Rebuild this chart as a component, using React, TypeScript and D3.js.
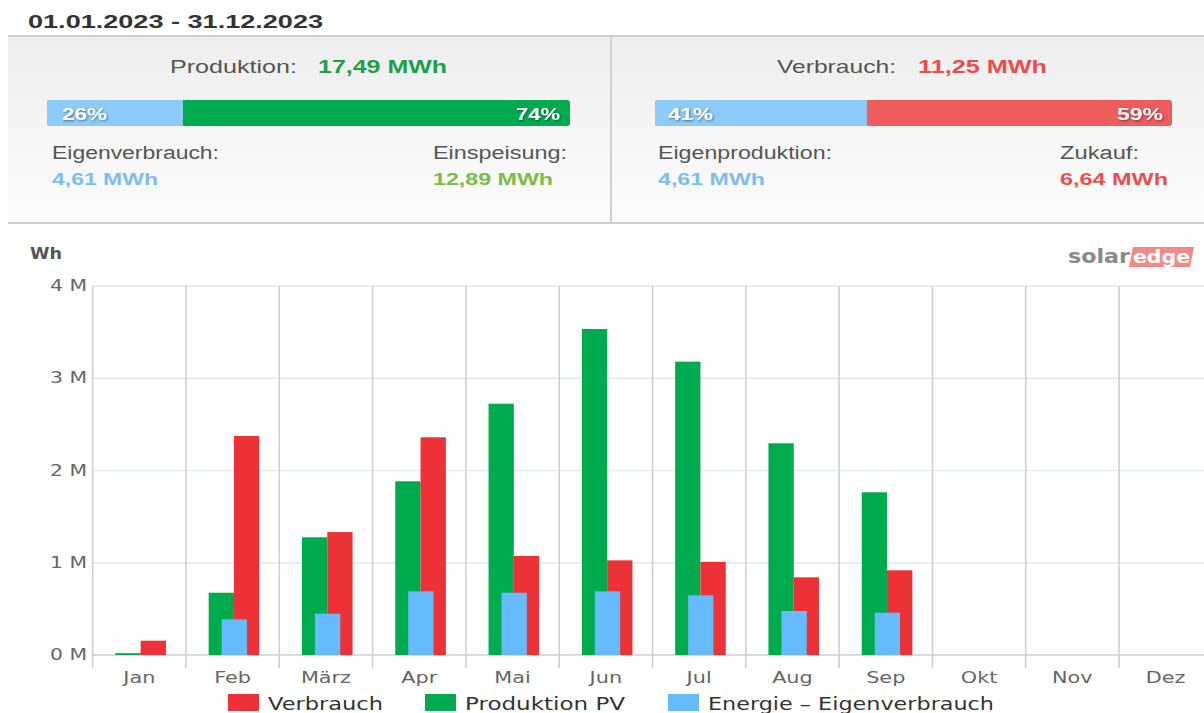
import React, { useRef, useEffect } from 'react';
import * as d3 from 'd3';

const months = ['Jan', 'Feb', 'März', 'Apr', 'Mai', 'Jun', 'Jul', 'Aug', 'Sep', 'Okt', 'Nov', 'Dez'];
// Wh per month
const produktionPV = [20000, 675000, 1276000, 1883000, 2724000, 3534000, 3180000, 2295000, 1764000, 0, 0, 0];
const verbrauch = [155000, 2374000, 1333000, 2360000, 1073000, 1026000, 1010000, 842000, 918000, 0, 0, 0];
const eigenverbrauch = [0, 387000, 448000, 690000, 675000, 690000, 647000, 477000, 459000, 0, 0, 0];
const yTicks = [0, 1000000, 2000000, 3000000, 4000000];

const periodLabel = '01.01.2023 - 31.12.2023';
const prodSplit = [26, 74];
const verbSplit = [41, 59];

const W = 1204;
const H = 713;

const C = {
  red: '#ed3237',
  green: '#00ab4e',
  blue: '#66bbfc',
  text: '#555',
};

type Sel = d3.Selection<SVGSVGElement, unknown, null, undefined>;
type G = d3.Selection<SVGGElement, unknown, null, undefined>;

function txt(
  g: G | Sel,
  s: string,
  x: number,
  y: number,
  len: number,
  size: number,
  color: string,
  bold = false,
  family = 'Liberation Sans, Arial, sans-serif',
) {
  return g
    .append('text')
    .attr('x', x)
    .attr('y', y)
    .attr('font-family', family)
    .attr('font-size', size)
    .attr('font-weight', bold ? 'bold' : 'normal')
    .attr('fill', color)
    .attr('textLength', len)
    .attr('lengthAdjust', 'spacingAndGlyphs')
    .text(s);
}

function appendPanels(svg: Sel) {
  const defs = svg.append('defs');
  const grad = defs.append('linearGradient').attr('id', 'pbg').attr('x1', 0).attr('y1', 0).attr('x2', 0).attr('y2', 1);
  grad.append('stop').attr('offset', '0%').attr('stop-color', '#eeeeee');
  grad.append('stop').attr('offset', '100%').attr('stop-color', '#fcfcfc');
  const sh = defs.append('filter').attr('id', 'tsh').attr('x', '-20%').attr('y', '-20%').attr('width', '140%').attr('height', '140%');
  sh.append('feDropShadow').attr('dx', 1).attr('dy', 1).attr('stdDeviation', 0.8).attr('flood-color', '#000').attr('flood-opacity', 0.45);

  txt(svg, periodLabel, 28, 28, 295, 19, '#333', true);

  const g = svg.append('g');
  g.append('rect').attr('x', 8).attr('y', 37).attr('width', 603).attr('height', 185).attr('fill', 'url(#pbg)');
  g.append('rect').attr('x', 612).attr('y', 37).attr('width', W - 612).attr('height', 185).attr('fill', 'url(#pbg)');
  g.append('line').attr('x1', 8).attr('x2', W).attr('y1', 36).attr('y2', 36).attr('stroke', '#cfcfcf').attr('stroke-width', 2);
  g.append('line').attr('x1', 8).attr('x2', W).attr('y1', 223).attr('y2', 223).attr('stroke', '#cfcfcf').attr('stroke-width', 2);
  g.append('line').attr('x1', 611).attr('x2', 611).attr('y1', 36).attr('y2', 223).attr('stroke', '#d0d0d0').attr('stroke-width', 2);

  // left: Produktion
  txt(g, 'Produktion:', 170, 73, 127, 19, C.text);
  txt(g, '17,49 MWh', 318, 73, 129, 19, '#1d9f48', true);
  const px = d3.scaleLinear().domain([0, 100]).range([47, 570]);
  g.append('rect').attr('x', px(0)).attr('y', 100).attr('width', px(100) - px(0)).attr('height', 26).attr('rx', 3).attr('fill', C.green);
  g.append('path')
    .attr('d', `M${px(prodSplit[0])},100 H${px(0) + 3} Q${px(0)},100 ${px(0)},103 V123 Q${px(0)},126 ${px(0) + 3},126 H${px(prodSplit[0])} Z`)
    .attr('fill', '#8dcbf8');
  txt(g, `${prodSplit[0]}%`, 62, 120, 45, 17, '#fff', true).attr('filter', 'url(#tsh)');
  txt(g, `${prodSplit[1]}%`, 516, 120, 44, 17, '#fff', true).attr('filter', 'url(#tsh)');
  txt(g, 'Eigenverbrauch:', 52, 159, 167, 18, C.text);
  txt(g, '4,61 MWh', 52, 185, 106, 17, '#7bbef2', true);
  txt(g, 'Einspeisung:', 433, 159, 134, 18, C.text);
  txt(g, '12,89 MWh', 433, 185, 120, 17, '#78be48', true);

  // right: Verbrauch
  txt(g, 'Verbrauch:', 777, 73, 119, 19, C.text);
  txt(g, '11,25 MWh', 918, 73, 129, 19, '#ef4b4f', true);
  const rx = d3.scaleLinear().domain([0, 100]).range([655, 1172]);
  g.append('rect').attr('x', rx(0)).attr('y', 100).attr('width', rx(100) - rx(0)).attr('height', 26).attr('rx', 3).attr('fill', '#ef5c5c');
  g.append('path')
    .attr('d', `M${rx(verbSplit[0])},100 H${rx(0) + 3} Q${rx(0)},100 ${rx(0)},103 V123 Q${rx(0)},126 ${rx(0) + 3},126 H${rx(verbSplit[0])} Z`)
    .attr('fill', '#8dcbf8');
  txt(g, `${verbSplit[0]}%`, 668, 120, 45, 17, '#fff', true).attr('filter', 'url(#tsh)');
  txt(g, `${verbSplit[1]}%`, 1117, 120, 46, 17, '#fff', true).attr('filter', 'url(#tsh)');
  txt(g, 'Eigenproduktion:', 658, 159, 174, 18, C.text);
  txt(g, '4,61 MWh', 658, 185, 107, 17, '#7bbef2', true);
  txt(g, 'Zukauf:', 1060, 159, 79, 18, C.text);
  txt(g, '6,64 MWh', 1060, 185, 108, 17, '#ef4b4f', true);
}

function appendChart(svg: Sel) {
  const x = d3.scaleBand<string>().domain(months).range([92.7, 1212.3]).padding(0);
  const y = d3.scaleLinear().domain([0, 4000000]).range([655, 286]);
  const g = svg.append('g');
  const dv = 'DejaVu Sans, Verdana, sans-serif';

  txt(g, 'Wh', 30, 259, 32, 16, '#555', true, dv);

  // logo
  txt(g, 'solar', 1068, 263, 62, 19, '#8a8a8a', true, dv);
  g.append('path').attr('d', 'M1133,247 H1194 L1190,267 H1129 Z').attr('fill', '#f48a88');
  txt(g, 'edge', 1133, 263, 57, 18, '#fff', true, dv);

  // grid
  g.selectAll('.hgrid')
    .data(yTicks)
    .enter()
    .append('line')
    .attr('x1', 92.7)
    .attr('x2', W)
    .attr('y1', (d) => y(d))
    .attr('y2', (d) => y(d))
    .attr('stroke', (d) => (d === 0 ? '#c5d2e2' : '#e1e9f1'))
    .attr('stroke-width', 1.5);

  const bounds = months.map((m) => x(m) ?? 0).concat([x.range()[1]]);
  g.selectAll('.vgrid')
    .data(bounds)
    .enter()
    .append('line')
    .attr('x1', (d) => d)
    .attr('x2', (d) => d)
    .attr('y1', y(4000000))
    .attr('y2', 668)
    .attr('stroke', '#cdcdcd')
    .attr('stroke-width', 1.5);

  g.selectAll('.ytick')
    .data(yTicks)
    .enter()
    .append('text')
    .attr('x', 50)
    .attr('y', (d) => y(d) + 5)
    .attr('font-family', dv)
    .attr('font-size', 15)
    .attr('fill', '#666')
    .attr('textLength', 37)
    .attr('lengthAdjust', 'spacingAndGlyphs')
    .text((d) => `${d / 1000000} M`);

  const bw = 25.3;
  const c = (i: number) => (x(months[i]) ?? 0) + x.bandwidth() / 2;
  const bars = (vals: number[], off: number, color: string) => {
    g.append('g')
      .selectAll('rect')
      .data(vals.map((v, i) => ({ v, i })).filter((d) => d.v > 0))
      .enter()
      .append('rect')
      .attr('x', (d) => c(d.i) + off)
      .attr('y', (d) => y(d.v))
      .attr('width', bw)
      .attr('height', (d) => y(0) - y(d.v))
      .attr('fill', color);
  };
  bars(produktionPV, -24.0, C.green);
  bars(verbrauch, 1.3, C.red);
  bars(eigenverbrauch, -11, C.blue);

  // month labels
  g.selectAll('.mlab')
    .data(months)
    .enter()
    .append('text')
    .attr('transform', (m) => `translate(${(x(m) ?? 0) + x.bandwidth() / 2},683) scale(1.3,1)`)
    .attr('text-anchor', 'middle')
    .attr('font-family', dv)
    .attr('font-size', 16)
    .attr('fill', '#666')
    .text((m) => m);

  // legend
  const legend = [
    { name: 'Verbrauch', color: C.red, x: 228, w: 115 },
    { name: 'Produktion PV', color: C.green, x: 425, w: 160 },
    { name: 'Energie – Eigenverbrauch', color: C.blue, x: 668, w: 286 },
  ];
  legend.forEach((l) => {
    g.append('rect').attr('x', l.x).attr('y', 694).attr('width', 31).attr('height', 17).attr('fill', l.color);
    txt(g, l.name, l.x + 40, 710, l.w, 18, '#333', false, dv);
  });
}

const App = () => {
  const ref = useRef<SVGSVGElement | null>(null);

  useEffect(() => {
    if (!ref.current) return;
    const svg = d3.select(ref.current);
    svg.selectAll('*').remove();
    appendPanels(svg);
    appendChart(svg);
  }, []);

  return (
    <svg
      ref={ref}
      width={W}
      height={H}
      style={{ position: 'absolute', left: 0, top: 0, background: '#fff', overflow: 'hidden' }}
    />
  );
};

export default App;
